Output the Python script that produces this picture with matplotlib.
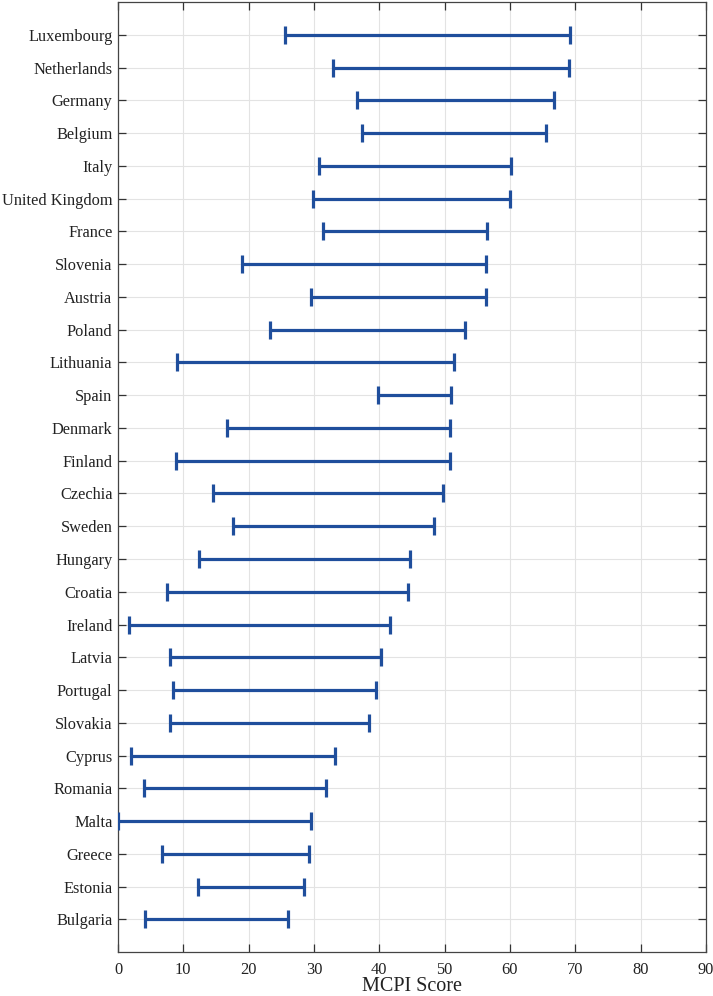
import numpy as np
import matplotlib
matplotlib.use("Agg")
import matplotlib.pyplot as plt

# countries, top to bottom
countries = ['Luxembourg', 'Netherlands', 'Germany', 'Belgium', 'Italy',
             'United Kingdom', 'France', 'Slovenia', 'Austria', 'Poland',
             'Lithuania', 'Spain', 'Denmark', 'Finland', 'Czechia', 'Sweden',
             'Hungary', 'Croatia', 'Ireland', 'Latvia', 'Portugal', 'Slovakia',
             'Cyprus', 'Romania', 'Malta', 'Greece', 'Estonia', 'Bulgaria']
low = [25.5, 32.9, 36.6, 37.4, 30.7, 29.8, 31.4, 19.0, 29.6, 23.3,
       9.0, 39.8, 16.7, 8.9, 14.6, 17.6, 12.4, 7.5, 1.7, 8.0,
       8.4, 8.0, 2.0, 4.0, 0.0, 6.7, 12.2, 4.1]
high = [69.2, 69.1, 66.8, 65.5, 60.1, 60.0, 56.5, 56.4, 56.3, 53.1,
        51.4, 51.0, 50.9, 50.8, 49.7, 48.4, 44.7, 44.4, 41.7, 40.2,
        39.5, 38.4, 33.2, 31.8, 29.5, 29.3, 28.4, 26.0]

plt.rcParams['font.family'] = ['Liberation Serif', 'DejaVu Serif']

fig = plt.figure(figsize=(7.13, 9.96), dpi=100)
ax = fig.add_axes([0.1655, 0.044, 0.8245, 0.954])

n = len(countries)
ypos = np.arange(n, 0, -1)
lo = np.array(low)
hi = np.array(high)
col = '#1F4E9C'
ax.errorbar((lo + hi) / 2, ypos, xerr=(hi - lo) / 2, fmt='none',
            ecolor=col, elinewidth=2.3, capsize=6.5, capthick=2.3, zorder=3)

ax.set_xlim(0, 90)
ax.set_ylim(0, n + 1)
ax.set_xticks(np.arange(0, 91, 10))
ax.set_yticks(ypos)
ax.set_yticklabels(countries)
ax.grid(True, color='#e3e3e3', linewidth=0.8)
ax.set_axisbelow(True)
ax.tick_params(direction='in', top=True, right=True, length=6, width=0.9,
               labelsize=11.8, color='#333333', labelcolor='#222222')
ax.tick_params(axis='x', pad=7)
ax.tick_params(axis='y', pad=4)
for s in ax.spines.values():
    s.set_color('#444444')
    s.set_linewidth(0.9)
ax.set_xlabel('MCPI Score', fontsize=14.5, labelpad=-1, color='#222222')

fig.savefig('out.png', dpi=100)
